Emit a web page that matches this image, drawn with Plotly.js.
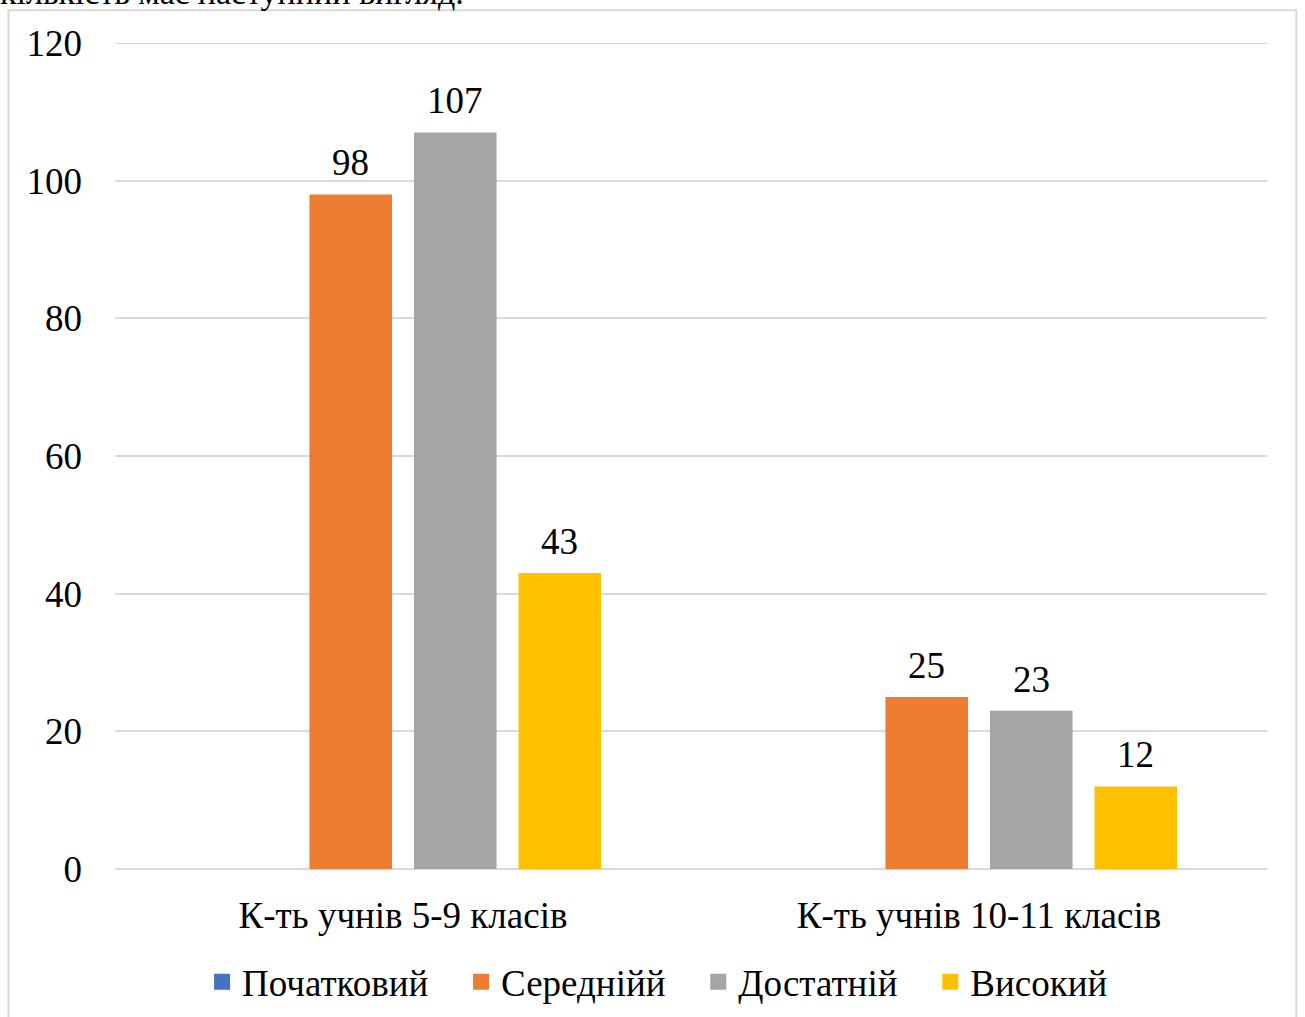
<!DOCTYPE html>
<html>
<head>
<meta charset="utf-8">
<script src="https://cdn.plot.ly/plotly-3.0.1.min.js"></script>
<style>html,body{margin:0;padding:0;background:#fff;}#chart{width:1305px;height:1017px;}</style>
</head>
<body>
<div id="chart"></div>
<script>
var categories = ['К-ть учнів 5-9 класів', 'К-ть учнів 10-11 класів'];
var seriesNames = ['Початковий', 'Середнійй', 'Достатній', 'Високий'];
var valuesPochatkovyi = [0, 0];
var valuesSerednii = [98, 25];
var valuesDostatnii = [107, 23];
var valuesVysokyi = [43, 12];
var yTicks = [0, 20, 40, 60, 80, 100, 120];
var colors = ['#4472C4', '#ED7D31', '#A5A5A5', '#FFC000'];
var showLabel = [false, true, true, true];

var FONT = 'Liberation Serif, Times New Roman, serif';
var FS = 37;
var BARGAP = 0.274;
var allValues = [valuesPochatkovyi, valuesSerednii, valuesDostatnii, valuesVysokyi];

var traces = [];
allValues.forEach(function (vals, i) {
  traces.push({
    type: 'bar',
    name: seriesNames[i],
    x: categories,
    y: vals,
    marker: {color: colors[i]},
    textposition: 'none',
    showlegend: false,
    hoverinfo: 'x+y+name'
  });
});
// legend entries with larger square swatches
allValues.forEach(function (vals, i) {
  traces.push({
    type: 'scatter',
    mode: 'markers',
    name: seriesNames[i] + (i < allValues.length - 1 ? '&nbsp;&nbsp;&nbsp;' : ''),
    x: [categories[0]],
    y: [null],
    marker: {color: colors[i], symbol: 'square', size: 16},
    showlegend: true,
    hoverinfo: 'skip'
  });
});

// data labels placed via axis scales
var annotations = [];
var nSeries = allValues.length;
var slot = (1 - BARGAP) / nSeries;
allValues.forEach(function (vals, i) {
  if (!showLabel[i]) return;
  vals.forEach(function (v, j) {
    annotations.push({
      xref: 'x', yref: 'y',
      x: j + (i - (nSeries - 1) / 2) * slot,
      y: v,
      yanchor: 'bottom', xanchor: 'center',
      yshift: 9,
      text: String(v),
      showarrow: false,
      font: {family: FONT, size: FS, color: '#000'}
    });
  });
});
annotations.push({
  xref: 'paper', yref: 'paper',
  x: -0.1016, xanchor: 'left',
  y: 1.0365, yanchor: 'bottom',
  text: 'кількість має наступний вигляд.',
  showarrow: false,
  font: {family: FONT, size: 34, color: '#000'}
});

var layout = {
  width: 1305,
  height: 1017,
  margin: {l: 115, r: 38, t: 43, b: 148, autoexpand: false},
  paper_bgcolor: '#fff',
  plot_bgcolor: '#fff',
  barmode: 'group',
  bargap: BARGAP,
  bargroupgap: 0.21,
  font: {family: FONT, size: FS, color: '#000'},
  showlegend: true,
  legend: {
    orientation: 'h',
    x: 0.471, xanchor: 'center',
    y: -0.137, yanchor: 'middle',
    font: {family: FONT, size: FS, color: '#000'},
    itemsizing: 'trace',
    itemwidth: 30,
    traceorder: 'normal'
  },
  xaxis: {
    type: 'category',
    range: [-0.5, 1.5],
    showgrid: false,
    showline: false,
    ticks: '',
    ticklabelstandoff: 21,
    tickfont: {family: FONT, size: FS, color: '#000'},
    automargin: false
  },
  yaxis: {
    range: [0, 120],
    tickvals: yTicks,
    ticktext: yTicks.map(String),
    showgrid: true,
    gridcolor: '#D9D9D9',
    gridwidth: 2,
    zeroline: true,
    zerolinecolor: '#D9D9D9',
    zerolinewidth: 2,
    showline: false,
    ticks: '',
    ticklabelstandoff: 32,
    tickfont: {family: FONT, size: FS, color: '#000'},
    automargin: false
  },
  shapes: [{
    type: 'rect', xref: 'paper', yref: 'paper',
    x0: -0.0925, x1: 1.0255, y0: -0.19, y1: 1.0395,
    line: {color: '#D9D9D9', width: 2}, fillcolor: 'rgba(0,0,0,0)', layer: 'below'
  }, {
    type: 'line', xref: 'paper', yref: 'y',
    x0: 0, x1: 1, y0: 120, y1: 120,
    line: {color: '#D9D9D9', width: 2}, layer: 'below'
  }],
  annotations: annotations
};

Plotly.newPlot('chart', traces, layout, {displayModeBar: false, staticPlot: true});
</script>
</body>
</html>
